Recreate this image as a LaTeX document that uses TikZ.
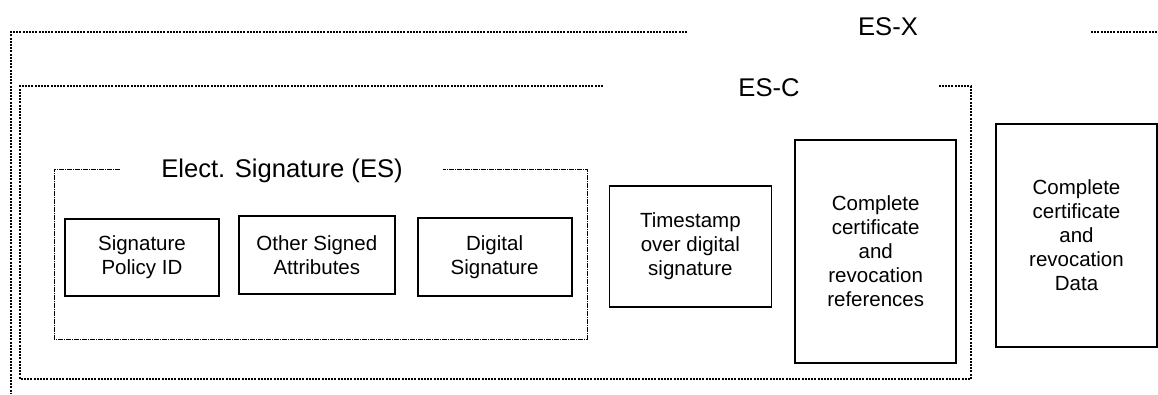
\documentclass[tikz,border=0pt]{standalone}
\usepackage{fontspec}
\setmainfont{Liberation Sans}
\usetikzlibrary{positioning}

\begin{document}
\begin{tikzpicture}
            [x=1pt,y=-1pt,
             box/.style={draw,line width=1.8pt,align=center,inner sep=0pt,
               font=\fontsize{20.5}{24}\selectfont},
             frame/.style={line width=1.4pt,dash pattern=on 2pt off 1.2pt},
             esframe/.style={line width=0.8pt,dash pattern=on 5pt off 1pt on 1pt off 1pt},
             title/.style={inner sep=0pt,font=\fontsize{25.6}{30}\selectfont}]

            \useasboundingbox (0,0) rectangle (1158,394);

            % ES-X and ES-C frames
            \draw[frame] (687,32) -- (11,32) -- (11,394);
            \draw[frame] (1091,32) -- (1158,32);
            \node (esx) [title] at (888,27) {ES-X};

            \draw[frame] (603,86) -- (20,86) -- (20,379) -- (971,379) -- (971,86) -- (938,86);
            \node (esc) [title] at (769,88) {ES-C};

            % elect. signature
            \draw[esframe] (120,169) -- (54,169) -- (54,339) -- (587,339) -- (587,169) -- (443,169);
            \node (es) [title] at (282,171) {Elect. Signature (ES)};

            \node (sp) [box,minimum width=154pt,minimum height=77pt] at (142,257.5) {Signature\\Policy ID};
            \node (osa) [box,minimum width=156pt,minimum height=78pt,right=18pt of sp,yshift=2.5pt] {Other Signed\\Attributes};
            \node (dsig) [box,minimum width=154pt,minimum height=78pt,right=21pt of osa,yshift=-2pt] {Digital\\Signature};

            \node (ts) [box,minimum width=162pt,minimum height=121pt,right=36pt of dsig,yshift=10.5pt] {Timestamp\\over digital\\signature};
            \node (cref) [box,minimum width=161pt,minimum height=223pt,right=22pt of ts,yshift=-5pt] {Complete\\certificate\\and\\revocation\\references};
            \node (cdata) [box,minimum width=161pt,minimum height=223pt,right=38pt of cref,yshift=16pt] {Complete\\certificate\\and\\revocation\\Data};
        \end{tikzpicture}
\end{document}
